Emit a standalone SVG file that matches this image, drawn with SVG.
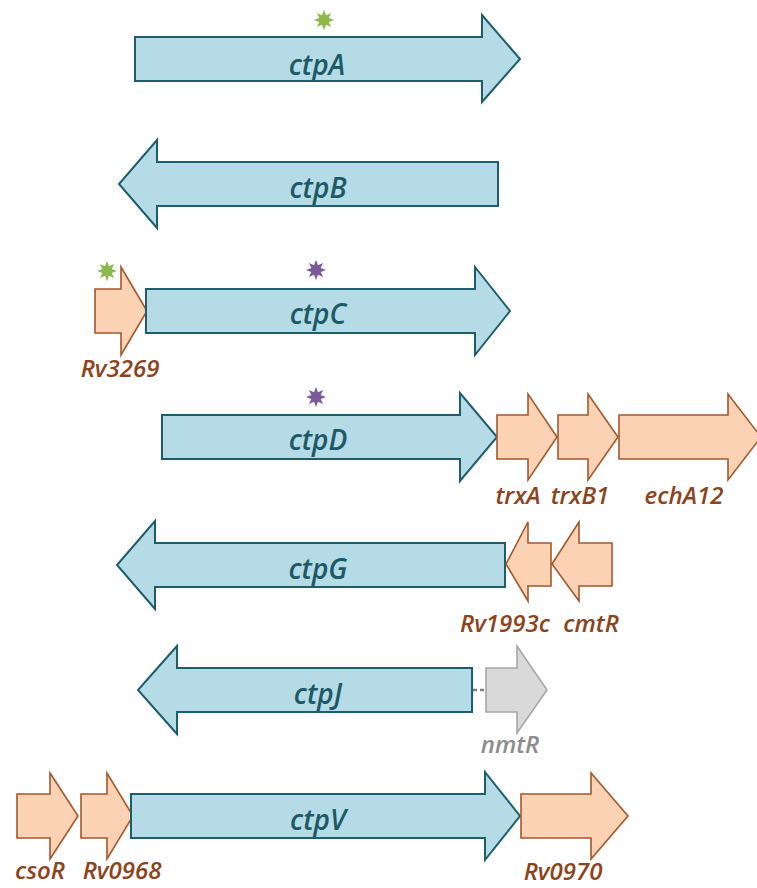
<svg xmlns="http://www.w3.org/2000/svg" width="757" height="888" viewBox="0 0 757 888">
<defs>
<style>
.b{fill:#b5dce6;stroke:#1e5e6c;stroke-width:2;stroke-linejoin:miter}
.o{fill:#fbd3b4;stroke:#a4572b;stroke-width:1.6}
.g{fill:#d9d9d9;stroke:#a6a6a6;stroke-width:1.6}
.bt{font-family:"Open Sans","Liberation Sans",sans-serif;font-style:italic;font-weight:600;font-size:28px;fill:#1d5966;text-anchor:middle}
.ot{font-family:"Open Sans","Liberation Sans",sans-serif;font-style:italic;font-weight:600;font-size:24px;fill:#8c441c;text-anchor:middle}
.gt{font-family:"Open Sans","Liberation Sans",sans-serif;font-style:italic;font-weight:600;font-size:24px;fill:#8c8c8c;text-anchor:middle}
.sg{fill:#8db84a}
.sp{fill:#7b5a9b}
</style>
<polygon id="star" points="0,-10 2,-4.7 7.1,-7.1 4.7,-2 10,0 4.7,2 7.1,7.1 2,4.7 0,10 -2,4.7 -7.1,7.1 -4.7,2 -10,0 -4.7,-2 -7.1,-7.1 -2,-4.7"/>
</defs>
<rect width="757" height="888" fill="#ffffff"/>
<g id="connectors">
<line x1="473" y1="690" x2="486" y2="690" stroke="#808080" stroke-width="2.5" stroke-dasharray="4,3"/>
</g>
<g id="ctpA">
<polygon class="b" points="135,37 482,37 482,15 520,59 482,102 482,81 135,81"/>
<use href="#star" class="sg" x="324" y="20"/>
<text class="bt" x="317" y="75">ctpA</text>
</g>
<g id="ctpB">
<polygon class="b" points="498,162 157,162 157,140 119,184 157,228 157,206 498,206"/>
<text class="bt" x="318" y="198">ctpB</text>
</g>
<g id="Rv3269">
<polygon class="o" points="95,289 121,289 121,267 147,311 121,355 121,333 95,333"/>
<use href="#star" class="sg" x="107" y="271"/>
<text class="ot" x="120" y="377">Rv3269</text>
</g>
<g id="ctpC">
<polygon class="b" points="146,289 475,289 475,267 510,311 475,355 475,333 146,333"/>
<use href="#star" class="sp" x="316" y="270"/>
<text class="bt" x="318" y="324">ctpC</text>
</g>
<g id="ctpD">
<polygon class="b" points="162,415 460,415 460,393 497,437 460,481 460,459 162,459"/>
<use href="#star" class="sp" x="316" y="397"/>
<text class="bt" x="318" y="450">ctpD</text>
</g>
<g id="trxA">
<polygon class="o" points="497,415 528,415 528,394 557,437 528,480 528,459 497,459"/>
<text class="ot" x="518" y="504">trxA</text>
</g>
<g id="trxB1">
<polygon class="o" points="558,415 588,415 588,394 618,437 588,480 588,459 558,459"/>
<text class="ot" x="580" y="504">trxB1</text>
</g>
<g id="echA12">
<polygon class="o" points="619,415 728,415 728,394 761,437 728,480 728,459 619,459"/>
<text class="ot" x="684" y="504">echA12</text>
</g>
<g id="ctpG">
<polygon class="b" points="505,543 155,543 155,521 117,565 155,609 155,587 505,587"/>
<text class="bt" x="318" y="579">ctpG</text>
</g>
<g id="Rv1993c">
<polygon class="o" points="551,543 528,543 528,522 506,564 528,601 528,586 551,586"/>
<text class="ot" x="505" y="632">Rv1993c</text>
</g>
<g id="cmtR">
<polygon class="o" points="612,543 579,543 579,522 552,564 579,601 579,586 612,586"/>
<text class="ot" x="591" y="632">cmtR</text>
</g>
<g id="ctpJ">
<polygon class="b" points="472,668 177,668 177,646 138,690 177,734 177,712 472,712"/>
<text class="bt" x="318" y="704">ctpJ</text>
</g>
<g id="nmtR">
<polygon class="g" points="486,668 517,668 517,646 547,690 517,733 517,712 486,712"/>
<text class="gt" x="510" y="753">nmtR</text>
</g>
<g id="csoR">
<polygon class="o" points="17,794 50,794 50,773 78,816 50,859 50,838 17,838"/>
<text class="ot" x="40" y="879">csoR</text>
</g>
<g id="Rv0968">
<polygon class="o" points="81,794 107,794 107,773 133,816 107,859 107,838 81,838"/>
<text class="ot" x="122" y="879">Rv0968</text>
</g>
<g id="ctpV">
<polygon class="b" points="131,794 485,794 485,772 520,816 485,860 485,838 131,838"/>
<text class="bt" x="318" y="830">ctpV</text>
</g>
<g id="Rv0970">
<polygon class="o" points="521,794 591,794 591,773 628,816 591,859 591,838 521,838"/>
<text class="ot" x="563" y="880">Rv0970</text>
</g>
</svg>
